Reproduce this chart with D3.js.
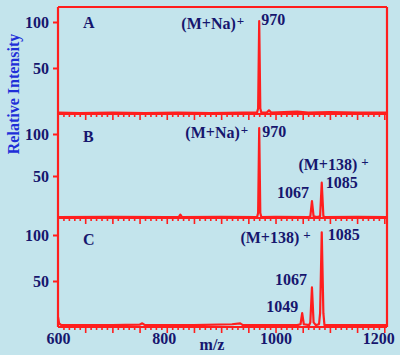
<!DOCTYPE html>
<html>
<head>
<meta charset="utf-8">
<script src="https://cdn.jsdelivr.net/npm/d3@7"></script>
<style>
  body { margin: 0; background: #c3e3eb; }
  svg text { font-family: "Liberation Serif", "Times New Roman", serif; font-weight: bold; }
</style>
</head>
<body>
<div id="chart"></div>
<script>
// spectra: [m/z, relative intensity]
const spectrumA = [[600,1.5],[640,1],[700,1.5],[760,1],[820,1.5],[880,1],[940,1.5],[966,1.5],[968,6],[970,101],[972,6],[974,1.5],
  [984,1.5],[988,4],[992,1.5],[1040,2.5],[1060,1.5],[1100,2],[1150,1.5],[1205,1.5]];
const spectrumB = [[600,1],[700,1.5],[800,1],[822,1],[825,4],[828,1],[900,1.5],[966,1],[968,6],[970,107],[972,6],[974,1],
  [1000,1.5],[1060,1],[1064,2],[1067,20],[1070,2],[1076,1],[1082,2],[1085,42],[1088,2],[1092,1],[1150,1.5],[1205,1]];
const spectrumC = [[600,11],[602,4],[606,2],[660,2],[700,2],[750,2.5],[755,4],[760,2],[850,2],[920,3],[935,4],[940,2],
  [1040,2],[1046,3],[1049,15],[1052,3],[1062,2],[1064,5],[1067,43],[1070,5],[1074,2],[1080,3],[1082,15],[1085,103],
  [1088,15],[1090,2],[1150,2],[1205,2]];
const panelNames = ["A", "B", "C"];
const yTickValues = [50, 100];
const xLabelTicks = [600, 800, 1000, 1200];

// annotations: text, superscript, peak they belong to
const notesA = [{ text: "(M+Na)", sup: "+", mz: 970, v: 101 }, { text: "970", mz: 970, v: 101 }];
const notesB = [{ text: "(M+Na)", sup: "+", mz: 970, v: 107 }, { text: "970", mz: 970, v: 107 },
  { text: "(M+138)", sup: "+", mz: 1085, v: 42 }, { text: "1085", mz: 1085, v: 42 }, { text: "1067", mz: 1067, v: 20 }];
const notesC = [{ text: "(M+138)", sup: "+", mz: 1085, v: 103 }, { text: "1085", mz: 1085, v: 103 },
  { text: "1067", mz: 1067, v: 43 }, { text: "1049", mz: 1049, v: 15 }];

// placement of each note relative to its peak tip
const placeA = [{ anchor: "end", dx: -15, dy: 8 }, { anchor: "start", dx: 2, dy: 4 }];
const placeB = [{ anchor: "end", dx: -11, dy: 10 }, { anchor: "start", dx: 3, dy: 9 },
  { anchor: "end", dx: 47, dy: -13 }, { anchor: "start", dx: 4, dy: 5 }, { anchor: "end", dx: -3, dy: -3 }];
const placeC = [{ anchor: "end", dx: -11, dy: 11 }, { anchor: "start", dx: 6, dy: 8 },
  { anchor: "end", dx: -5, dy: -2 }, { anchor: "end", dx: -4, dy: -1 }];

const W = 400, H = 355;
const plotLeft = 58, plotRight = 387, plotTop = 7, plotBottom = 327;
const red = "#ff1e1e", navy = "#16166e";
const fs = "16px";

// per-panel vertical layout (baseline and 100% line)
const panels = [
  { name: panelNames[0], data: spectrumA, notes: notesA, place: placeA, base: 114, full: 22 },
  { name: panelNames[1], data: spectrumB, notes: notesB, place: placeB, base: 218, full: 134 },
  { name: panelNames[2], data: spectrumC, notes: notesC, place: placeC, base: 327, full: 235 }
];

const svg = d3.select("#chart").append("svg").attr("width", W).attr("height", H);
svg.append("rect").attr("width", W).attr("height", H).attr("fill", "#c3e4ec");

const x = d3.scaleLinear().domain([600, 1205]).range([plotLeft, plotRight]);
const line = d3.line().x(d => x(d[0]));

panels.forEach((p, i) => {
  const y = d3.scaleLinear().domain([0, 100]).range([p.base, p.full]);
  const g = svg.append("g");

  g.append("path")
    .datum(p.data)
    .attr("fill", "none")
    .attr("stroke", red)
    .attr("stroke-width", 2.2)
    .attr("stroke-linejoin", "round")
    .attr("d", line.y(d => y(d[1])));

  // minor / major ticks below baseline
  const minor = d3.axisBottom(x).tickValues(d3.range(610, 1201, 10).filter(v => v % 50 !== 0)).tickSize(3).tickFormat("");
  const major = d3.axisBottom(x).tickValues(d3.range(650, 1201, 50)).tickSize(6).tickFormat("");
  [minor, major].forEach(ax => {
    const a = g.append("g").attr("transform", `translate(0,${p.base})`).call(ax);
    a.select(".domain").remove();
    a.selectAll("line").attr("stroke", red).attr("stroke-width", 1.6);
  });

  g.append("line").attr("x1", plotLeft).attr("x2", plotRight).attr("y1", p.base).attr("y2", p.base)
    .attr("stroke", red).attr("stroke-width", 2.2);

  const ya = g.append("g").attr("transform", `translate(${plotLeft},0)`)
    .call(d3.axisLeft(y).tickValues(yTickValues).tickSize(5).tickPadding(4));
  ya.select(".domain").remove();
  ya.selectAll("line").attr("stroke", red).attr("stroke-width", 2);
  ya.selectAll("text").attr("fill", navy).style("font-size", fs).attr("dy", "0.35em");

  g.append("text").attr("x", 83).attr("y", p.full + 6 + i * 2).attr("fill", navy)
    .style("font-size", fs).text(p.name);

  p.notes.forEach((n, k) => {
    const pl = p.place[k];
    const t = g.append("text").attr("fill", navy).style("font-size", fs)
      .attr("text-anchor", pl.anchor)
      .attr("x", x(n.mz) + pl.dx)
      .attr("y", y(n.v) + pl.dy);
    t.append("tspan").text(n.text);
    if (n.sup) {
      t.append("tspan").attr("dx", n.text === "(M+138)" ? 4 : 1).attr("dy", -4)
        .style("font-size", "13px").text(n.sup);
    }
  });
});

// frame
const frame = svg.append("g").attr("stroke", red).attr("stroke-width", 2.2);
frame.append("line").attr("x1", plotLeft).attr("x2", plotRight).attr("y1", plotTop).attr("y2", plotTop);
frame.append("line").attr("x1", plotLeft).attr("x2", plotLeft).attr("y1", plotTop).attr("y2", plotBottom);
frame.append("line").attr("x1", plotRight).attr("x2", plotRight).attr("y1", plotTop).attr("y2", plotBottom);

// x labels
const xa = svg.append("g").attr("transform", `translate(0,${plotBottom})`)
  .call(d3.axisBottom(x).tickValues(xLabelTicks).tickFormat(d3.format("d")).tickSize(0).tickPadding(6));
xa.select(".domain").remove();
xa.selectAll("text").attr("fill", navy).style("font-size", fs)
  .attr("dx", d => d === 1200 ? -6 : d === 800 ? -3 : 0);

svg.append("text").attr("x", 212).attr("y", 350).attr("text-anchor", "middle")
  .attr("fill", navy).style("font-size", "16px").text("m/z");

svg.append("text")
  .attr("transform", "translate(19,94) rotate(-90)")
  .attr("text-anchor", "middle")
  .attr("fill", "#1f2fd8")
  .style("font-size", "16px")
  .text("Relative Intensity");
</script>
</body>
</html>
